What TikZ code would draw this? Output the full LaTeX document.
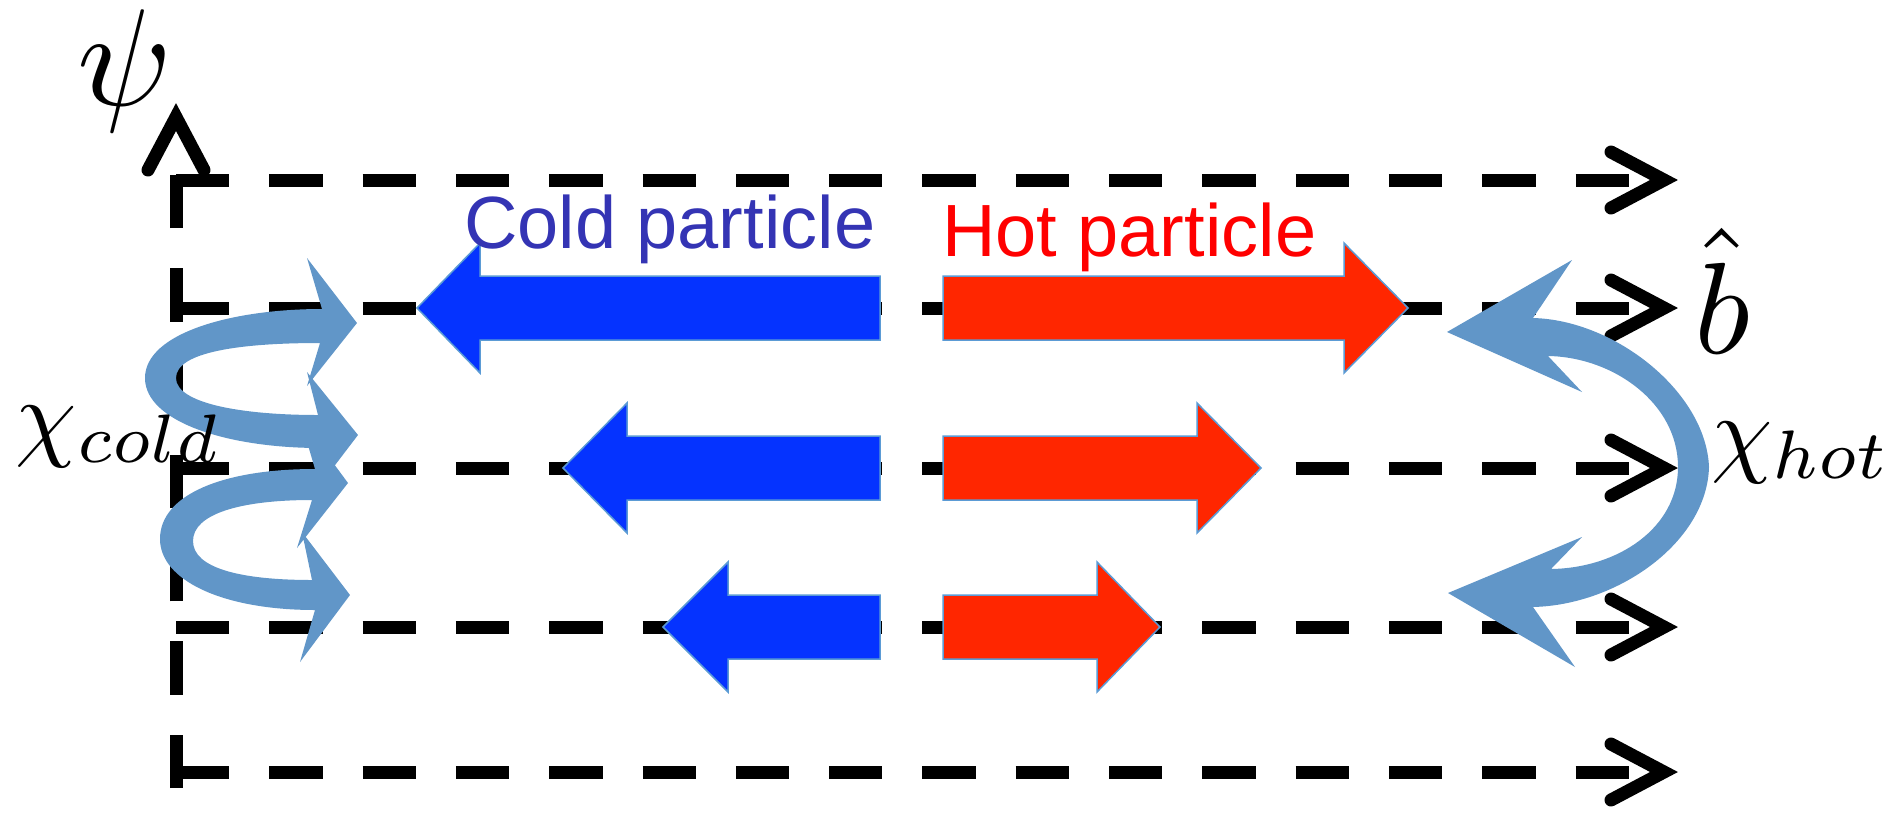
\RequirePackage{fix-cm}
\documentclass[tikz,border=0pt]{standalone}
\usepackage{fontspec}
\newfontfamily\arialfont{Liberation Sans}
\definecolor{coldfill}{RGB}{5,51,255}
\definecolor{hotfill}{RGB}{255,38,0}
\definecolor{edgeblue}{RGB}{91,155,213}
\definecolor{gyro}{RGB}{97,150,200}
\definecolor{coldtext}{RGB}{52,52,180}
\definecolor{hottext}{RGB}{255,0,0}
\begin{document}
\begin{tikzpicture}[x=1pt,y=-1pt,
  axisline/.style={line width=13pt, dash pattern=on 53.3pt off 40pt},
  chev/.style={line width=13pt, line cap=round, line join=miter},
  coldarrow/.style={fill=coldfill, draw=edgeblue, line width=1.5pt},
  hotarrow/.style={fill=hotfill, draw=edgeblue, line width=1.5pt},
  gyroarrow/.style={fill=gyro},
  lbl/.style={inner sep=0pt, outer sep=0pt}]
\useasboundingbox (0,0) rectangle (1893,812);

% field lines (dashed) with open arrowheads
\foreach \y [count=\i] in {180,308,468,627,772}{
  \coordinate (ls\i) at (176,\y);
  \coordinate (le\i) at (1660,\y);
  \draw[axisline] (ls\i) -- (le\i);
  \draw[chev] (1611,{\y-28}) -- (1664,\y) -- (1611,{\y+28});
}
% psi axis
\coordinate (ab) at (176,788);
\coordinate (at) at (176,140);
\draw[axisline] (ab) -- (at);
\draw[chev] (148,170) -- (176,117) -- (204,170);

% cold particle arrows
\draw[coldarrow] (880,276) -- (480,276) -- (480,243) -- (417,308) -- (480,373) -- (480,340) -- (880,340) -- cycle;
\draw[coldarrow] (880,436) -- (627,436) -- (627,403) -- (563,468) -- (627,533) -- (627,500) -- (880,500) -- cycle;
\draw[coldarrow] (880,595) -- (728,595) -- (728,562) -- (663,627) -- (728,692) -- (728,659) -- (880,659) -- cycle;

% hot particle arrows
\draw[hotarrow] (943,276) -- (1344,276) -- (1344,243) -- (1408,308) -- (1344,373) -- (1344,340) -- (943,340) -- cycle;
\draw[hotarrow] (943,436) -- (1197,436) -- (1197,403) -- (1261,468) -- (1197,533) -- (1197,500) -- (943,500) -- cycle;
\draw[hotarrow] (943,595) -- (1097,595) -- (1097,562) -- (1160,627) -- (1097,692) -- (1097,659) -- (943,659) -- cycle;

% gyration of hot particle
\fill[gyroarrow] (1447,332) -- (1572,260) -- (1533,318)
  .. controls (1615,320) and (1706,392) .. (1709,467)
  .. controls (1707,542) and (1618,605) .. (1533,607)
  -- (1575,667) -- (1448,593) -- (1582,537) -- (1551,569)
  .. controls (1618,568) and (1678,528) .. (1678,467)
  .. controls (1678,403) and (1613,357) .. (1548,356)
  -- (1582,392) -- cycle;

% gyration of cold particle (two loops)
\fill[gyroarrow] (357,323) -- (307,386) -- (320,343)
  .. controls (240,343) and (176,352) .. (176,378)
  .. controls (176,403) and (240,415) .. (318,415)
  -- (307,372) -- (358,435) -- (310,498) -- (320,448)
  .. controls (228,448) and (145,422) .. (145,378)
  .. controls (145,333) and (232,309) .. (322,309)
  -- (307,258) -- cycle;
\fill[gyroarrow] (348,483) -- (297,548) -- (312,500)
  .. controls (240,500) and (193,514) .. (193,541)
  .. controls (193,568) and (240,580) .. (312,580)
  -- (302,532) -- (350,595) -- (300,662) -- (315,610)
  .. controls (222,610) and (160,580) .. (160,539)
  .. controls (160,495) and (222,469) .. (315,469)
  -- (300,418) -- cycle;

% labels
\node[lbl, anchor=base west, text=coldtext, font=\arialfont\fontsize{74}{74}\selectfont] (coldlbl) at (464,248) {Cold particle};
\node[lbl, anchor=base west, text=hottext, font=\arialfont\fontsize{74}{74}\selectfont] (hotlbl) at (942,256) {Hot particle};
\node[lbl, anchor=base, scale=13.8] (psi) at (125,105) {$\psi$};
\node[lbl, anchor=base, scale=13] (bhat) at (1722,353) {$\hat{b}$};
\node[lbl, anchor=base west, scale=9.8] (chic) at (16,448) {$\chi_{cold}$};
\node[lbl, anchor=base west, scale=9.8] (chih) at (1711,464) {$\chi_{hot}$};
\end{tikzpicture}
\end{document}
